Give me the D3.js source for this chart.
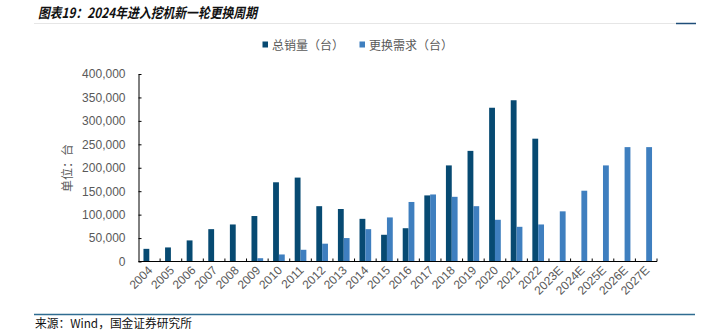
<!DOCTYPE html>
<html><head><meta charset="utf-8">
<script src="https://cdn.jsdelivr.net/npm/d3@7"></script>
<style>
html,body{margin:0;padding:0;background:#fff;}
svg{display:block;}
</style></head>
<body><svg id="c" width="716" height="331"></svg>
<script>
const categories = ["2004","2005","2006","2007","2008","2009","2010","2011","2012","2013","2014","2015","2016","2017","2018","2019","2020","2021","2022","2023E","2024E","2025E","2026E","2027E"];
const totalSales = [27000,30000,45000,69000,79000,97000,169000,179000,118000,112000,91000,57000,71000,141000,205000,236000,328000,344000,262000,null,null,null,null,null];
const replaceDemand = [null,null,null,null,null,7000,15000,25000,38000,50000,69000,94000,127000,143000,138000,118000,89000,74000,79000,107000,151000,205000,244000,244000];
const yTicks = [0,50000,100000,150000,200000,250000,300000,350000,400000];
const seriesNames = ["总销量（台）","更换需求（台）"];
const colors = ["#074A72","#3F7FBF"];

const svg = d3.select("#c");
const x = d3.scaleBand().domain(categories).range([138.5, 657]).padding(0);
const y = d3.scaleLinear().domain([0, 400000]).range([261.5, 74]);
const step = x.step();
const bw = step * 0.27;

// title
svg.append("text").attr("x", 38).attr("y", 18)
  .attr("font-family", "'Noto Sans CJK SC'").attr("font-size", 14)
  .attr("font-weight", "bold").attr("font-style", "italic").attr("fill", "#111")
  .attr("textLength", 219).attr("lengthAdjust", "spacingAndGlyphs")
  .text("图表19：2024年进入挖机新一轮更换周期");
svg.append("line").attr("x1", 34).attr("x2", 676).attr("y1", 23.5).attr("y2", 23.5)
  .attr("stroke", "#e6e6e6").attr("stroke-width", 1);
svg.append("line").attr("x1", 676).attr("x2", 696).attr("y1", 23.5).attr("y2", 23.5)
  .attr("stroke", "#1f4e79").attr("stroke-width", 1.5);

// legend
const leg = [[262.5, 272], [359.5, 369]];
seriesNames.forEach((n, i) => {
  svg.append("rect").attr("x", leg[i][0]).attr("y", 41.5).attr("width", 5.5).attr("height", 6)
    .attr("fill", colors[i]);
  svg.append("text").attr("x", leg[i][1]).attr("y", 50)
    .attr("font-family", "'Noto Sans CJK SC'").attr("font-size", 12).attr("fill", "#595959")
    .text(n);
});

// bars
const g = svg.append("g");
g.selectAll("rect.s0").data(categories.map((c, i) => ({c, v: totalSales[i]})).filter(d => d.v != null))
  .enter().append("rect")
  .attr("x", d => x(d.c) + step / 2 - bw).attr("width", bw)
  .attr("y", d => y(d.v)).attr("height", d => y(0) - y(d.v))
  .attr("fill", colors[0]);
g.selectAll("rect.s1").data(categories.map((c, i) => ({c, v: replaceDemand[i]})).filter(d => d.v != null))
  .enter().append("rect")
  .attr("x", d => x(d.c) + step / 2).attr("width", bw)
  .attr("y", d => y(d.v)).attr("height", d => y(0) - y(d.v))
  .attr("fill", colors[1]);

// y axis
const ya = svg.append("g").attr("transform", "translate(138.5,0)")
  .call(d3.axisLeft(y).tickValues(yTicks).tickFormat(d3.format(",")).tickSizeInner(-3).tickSizeOuter(0).tickPadding(13));
ya.select(".domain").attr("stroke", "#000");
ya.selectAll(".tick line").attr("stroke", "#000");
ya.selectAll("text").attr("font-family", "'Liberation Sans', Arial").attr("font-size", 12).attr("fill", "#595959");

// x axis
svg.append("line").attr("x1", 138.5).attr("x2", 657).attr("y1", 261.5).attr("y2", 261.5).attr("stroke", "#000");
svg.append("g").selectAll("line").data(categories.slice(1).concat(["__end"]))
  .enter().append("line")
  .attr("x1", (d, i) => x(categories[0]) + (i + 1) * step).attr("x2", (d, i) => x(categories[0]) + (i + 1) * step)
  .attr("y1", 258.5).attr("y2", 261.5).attr("stroke", "#000");
svg.append("g").selectAll("text").data(categories).enter().append("text")
  .attr("transform", d => `translate(${x(d) + step / 2 + 1},${268}) rotate(-45)`)
  .attr("text-anchor", "end").attr("dy", "0.35em")
  .attr("font-family", "'Liberation Sans', Arial").attr("font-size", 12).attr("fill", "#595959")
  .text(d => d);

// y label
svg.append("text").attr("transform", "translate(72,168) rotate(-90)")
  .attr("text-anchor", "middle")
  .attr("font-family", "'Noto Sans CJK SC'").attr("font-size", 12).attr("fill", "#595959")
  .text("单位：台");

// footer
svg.append("line").attr("x1", 34).attr("x2", 695).attr("y1", 314.5).attr("y2", 314.5)
  .attr("stroke", "#2F6C91").attr("stroke-width", 1.5);
svg.append("text").attr("x", 35).attr("y", 328)
  .attr("font-family", "'Noto Sans CJK SC'").attr("font-size", 12).attr("fill", "#111")
  .attr("textLength", 157).attr("lengthAdjust", "spacingAndGlyphs")
  .text("来源：Wind，国金证券研究所");
</script></body></html>
